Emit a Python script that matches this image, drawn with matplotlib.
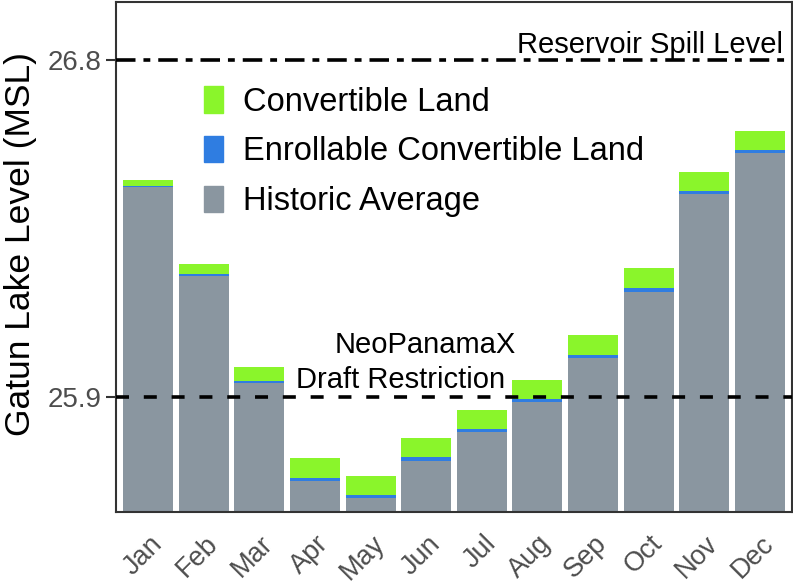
import matplotlib
matplotlib.use("Agg")
import matplotlib.pyplot as plt
from matplotlib.patches import Patch
from matplotlib.transforms import ScaledTranslation

plt.rcParams['font.family'] = ['Liberation Sans', 'DejaVu Sans']

months = ["Jan", "Feb", "Mar", "Apr", "May", "Jun", "Jul", "Aug", "Sep", "Oct", "Nov", "Dec"]
historic_avg = [26.461, 26.223, 25.937, 25.674, 25.628, 25.729, 25.805, 25.885, 26.004, 26.181, 26.442, 26.551]
enrollable_top = [26.465, 26.228, 25.943, 25.683, 25.637, 25.738, 25.814, 25.893, 26.012, 26.192, 26.451, 26.560]
convertible_top = [26.481, 26.255, 25.979, 25.735, 25.689, 25.790, 25.865, 25.945, 26.064, 26.243, 26.501, 26.610]
spill_level = 26.8
draft_restriction = 25.9
yticks = [25.9, 26.8]

base = 25.0
c_green = "#8af52b"
c_blue = "#2f7de1"
c_grey = "#8a96a0"

fig = plt.figure(figsize=(7.93, 5.85), dpi=100)
ax = fig.add_axes([116/793, 1 - 512/585, 676/793, 510/585])

x = list(range(len(months)))
w = 0.9
ax.bar(x, [h - base for h in historic_avg], bottom=base, width=w, color=c_grey, zorder=2)
ax.bar(x, [e - h for e, h in zip(enrollable_top, historic_avg)], bottom=historic_avg,
       width=w, color=c_blue, zorder=2)
ax.bar(x, [c - e for c, e in zip(convertible_top, enrollable_top)], bottom=enrollable_top,
       width=w, color=c_green, zorder=2)

ax.axhline(spill_level, color="black", lw=2.6, dashes=(5.4, 2.2, 1.9, 2.2), zorder=3)
ax.axhline(draft_restriction, color="black", lw=2.6, dashes=(3.6, 4.1), zorder=3)

ax.set_xlim(-0.58, 11.58)
ax.set_ylim(25.5915, 26.956)

ax.set_yticks(yticks)
ax.set_yticklabels([f"{v:.1f}" for v in yticks])
ax.set_xticks(x)
ax.set_xticklabels(months, rotation=45, ha="right", va="center", rotation_mode="anchor")
ax.tick_params(axis="y", labelsize=20, labelcolor="#4d4d4d", length=7, width=1.5, color="#333333")
ax.tick_params(axis="x", labelsize=19.5, labelcolor="#4d4d4d", length=0, pad=20)
off = ScaledTranslation(10/100, 0, fig.dpi_scale_trans)
for lab in ax.get_xticklabels():
    lab.set_transform(lab.get_transform() + off)

for s in ax.spines.values():
    s.set_color("#333333")
    s.set_linewidth(1.5)

ax.set_ylabel("Gatun Lake Level (MSL)", fontsize=25.5)
ax.yaxis.set_label_coords(-0.142, 0.5255)
ax.yaxis.label.set_va("center")

ax.text(0.987, spill_level + 0.0195, "Reservoir Spill Level", transform=ax.get_yaxis_transform(),
        ha="right", va="baseline", fontsize=21, zorder=4)
ax.text(4.99, 26.017, "NeoPanamaX", ha="center", va="baseline", fontsize=21, zorder=4)
ax.text(4.53, 25.923, "Draft Restriction", ha="center", va="baseline", fontsize=21, zorder=4)

handles = [Patch(color=c_green, label="Convertible Land"),
           Patch(color=c_blue, label="Enrollable Convertible Land"),
           Patch(color=c_grey, label="Historic Average")]
ax.legend(handles=handles, loc="upper left", bbox_to_anchor=(0.130, 0.835), frameon=False,
          fontsize=23.5, handlelength=0.6, handleheight=0.87, handletextpad=0.6,
          labelspacing=0.56, borderpad=0, borderaxespad=0)

fig.savefig("out.png", dpi=100)
